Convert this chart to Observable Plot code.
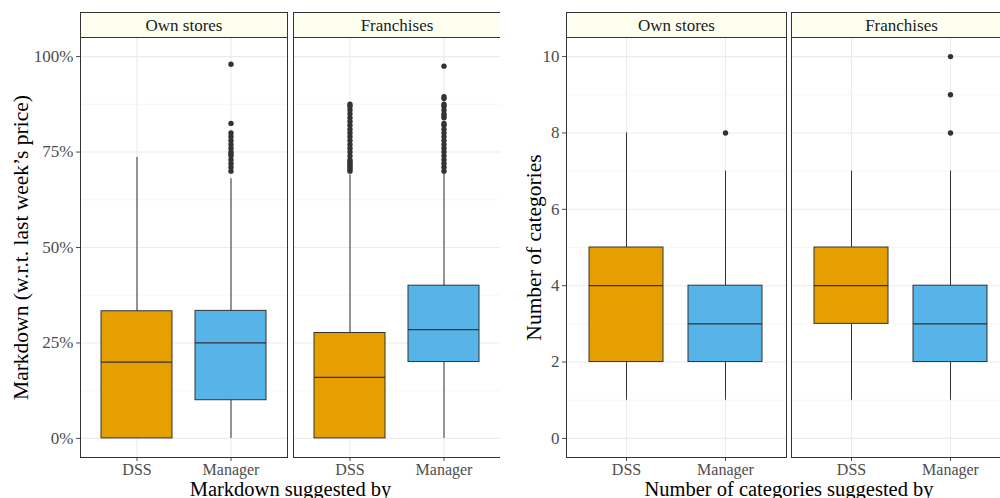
<!DOCTYPE html>
<html><head><meta charset="utf-8">
<script src="https://cdn.jsdelivr.net/npm/d3@7"></script>
<script src="https://cdn.jsdelivr.net/npm/@observablehq/plot@0.6"></script>
<style>
body{margin:0;background:#fff;}
#wrap{display:flex;width:1000px;height:498px;overflow:hidden;background:#fff;}
#wrap svg{flex:none;display:block;}
</style></head><body><div id="wrap"></div>
<script>
const FONT = "'Liberation Serif', 'DejaVu Serif', serif";
const stores = ["Own stores", "Franchises"];
const sources = ["DSS", "Manager"];
const colors = ["#E69F00", "#56B4E9"];

// Order of the four boxes: Own/DSS, Own/Manager, Franchises/DSS, Franchises/Manager
const mdLow    = [0, 0, 0, 0];
const mdQ1     = [0, 0.10, 0, 0.20];
const mdMedian = [0.20, 0.25, 0.16, 0.285];
const mdQ3     = [0.333, 0.334, 0.276, 0.40];
const mdHigh   = [0.736, 0.68, 0.69, 0.70];
const mdOutOwnMgr = [0.98, 0.825, 0.80, 0.79, 0.78, 0.77, 0.76, 0.75, 0.745, 0.74, 0.73, 0.72, 0.71, 0.70];
const mdOutFrDss  = [0.875, 0.87, 0.86, 0.85, 0.84, 0.83, 0.82, 0.81, 0.80, 0.79, 0.78, 0.77, 0.76, 0.75, 0.74, 0.73, 0.725, 0.72, 0.715, 0.71, 0.705, 0.70];
const mdOutFrMgr  = [0.975, 0.895, 0.89, 0.875, 0.87, 0.86, 0.85, 0.845, 0.84, 0.825, 0.82, 0.81, 0.80, 0.79, 0.78, 0.77, 0.76, 0.75, 0.74, 0.73, 0.72, 0.71, 0.70];
const mdTicks = [0, 0.25, 0.5, 0.75, 1];
const mdMinor = [0.125, 0.375, 0.625, 0.875];

const ncLow    = [1, 1, 1, 1];
const ncQ1     = [2, 2, 3, 2];
const ncMedian = [4, 3, 4, 3];
const ncQ3     = [5, 4, 5, 4];
const ncHigh   = [8, 7, 7, 7];
const ncOutOwnMgr = [8];
const ncOutFrMgr  = [8, 9, 10];
const ncTicks = [0, 2, 4, 6, 8, 10];
const ncMinor = [1, 3, 5, 7, 9];

function buildStats(low, q1, med, q3, high) {
  const out = [];
  stores.forEach((s, i) => sources.forEach((w, j) => {
    const k = i * 2 + j;
    out.push({store: s, who: w, lo: low[k], q1: q1[k], med: med[k], q3: q3[k], hi: high[k]});
  }));
  return out;
}
function buildOutliers(groups) {
  return groups.flatMap(([store, who, vals]) => vals.map(v => ({store, who, value: v})));
}

function panel(opt) {
  const stats = buildStats(...opt.stats);
  const plot = Plot.plot({
    width: opt.width, height: 498,
    marginLeft: opt.marginLeft, marginRight: 0, marginTop: 37, marginBottom: 41,
    style: {fontFamily: FONT, fontSize: "17px", color: "#4D4D4D", background: "white", overflow: "visible"},
    fx: {domain: stores, paddingInner: opt.fxPad, paddingOuter: 0, axis: "top", label: null, tickSize: 0, tickPadding: 7},
    x: {domain: sources, paddingInner: 0.25, paddingOuter: 0.225, tickSize: 4, tickPadding: 2, label: null},
    y: {domain: opt.yDomain, ticks: opt.yTicks, tickFormat: opt.yFormat, tickSize: 4, tickPadding: 3, label: null},
    color: {domain: sources, range: colors},
    marks: [
      Plot.ruleY(opt.yMinor, {stroke: "#F3F3F3", strokeWidth: 0.7}),
      Plot.ruleY(opt.yTicks, {stroke: "#EBEBEB", strokeWidth: 1.1}),
      Plot.ruleX(sources, {x: d => d, stroke: "#EBEBEB", strokeWidth: 1.1}),
      Plot.ruleX(stats, {fx: "store", x: "who", y1: "lo", y2: "hi", stroke: "#333", strokeWidth: 1}),
      Plot.barY(stats, {fx: "store", x: "who", y1: "q1", y2: "q3", fill: "who", stroke: "#333", strokeWidth: 1}),
      Plot.tickY(stats, {fx: "store", x: "who", y: "med", stroke: "#333", strokeWidth: 1.2}),
      Plot.dot(opt.outliers, {fx: "store", x: "who", y: "value", r: 2.7, fill: "#333", stroke: "none"}),
      Plot.frame({stroke: "#333", strokeWidth: 1})
    ]
  });
  document.getElementById("wrap").appendChild(plot);
  decorate(plot, opt);
  return plot;
}

function decorate(svg, opt) {
  const ns = "http://www.w3.org/2000/svg";
  const sb = svg.getBoundingClientRect();
  const rects = [];
  svg.querySelectorAll('[aria-label="frame"]').forEach(el => {
    if (el.tagName.toLowerCase() === "rect") rects.push(el);
    else el.querySelectorAll("rect").forEach(r => rects.push(r));
  });
  const boxes = rects.map(r => {
    const b = r.getBoundingClientRect();
    return {x: b.left - sb.left, y: b.top - sb.top, w: b.width, h: b.height};
  });
  const g = document.createElementNS(ns, "g");
  boxes.forEach(b => {
    const s = document.createElementNS(ns, "rect");
    s.setAttribute("x", b.x); s.setAttribute("y", b.y - 25);
    s.setAttribute("width", b.w); s.setAttribute("height", 25);
    s.setAttribute("fill", "#FFFFF0"); s.setAttribute("stroke", "#333"); s.setAttribute("stroke-width", 1);
    g.appendChild(s);
  });
  svg.insertBefore(g, svg.firstChild ? svg.firstChild.nextSibling : null);
  svg.querySelectorAll('g[aria-label^="fx-axis"] text').forEach(t => t.setAttribute("fill", "#1A1A1A"));
  svg.querySelectorAll('g[aria-label="x-axis tick label"]').forEach(t => t.setAttribute("font-size", "16px"));
  svg.querySelectorAll('g[aria-label="x-axis tick label"] text').forEach(t => t.style.fontSize = "16px");
  const left = Math.min(...boxes.map(b => b.x));
  const right = Math.max(...boxes.map(b => b.x + b.w));
  const top = Math.min(...boxes.map(b => b.y));
  const bottom = Math.max(...boxes.map(b => b.y + b.h));
  const xt = document.createElementNS(ns, "text");
  xt.setAttribute("x", (left + right) / 2); xt.setAttribute("y", 495.5);
  xt.setAttribute("text-anchor", "middle"); xt.setAttribute("fill", "#000");
  xt.setAttribute("font-size", "20.5px");
  xt.textContent = opt.xTitle;
  svg.appendChild(xt);
  const yt = document.createElementNS(ns, "text");
  const cy = (top + bottom) / 2;
  yt.setAttribute("transform", `translate(${opt.titleX},${cy}) rotate(-90)`);
  yt.setAttribute("text-anchor", "middle"); yt.setAttribute("dy", "0.35em");
  yt.setAttribute("fill", "#000"); yt.setAttribute("font-size", "21.5px");
  yt.textContent = opt.yTitle;
  svg.appendChild(yt);
}

panel({
  width: 500, marginLeft: 80, fxPad: 6 / 213,
  stats: [mdLow, mdQ1, mdMedian, mdQ3, mdHigh],
  outliers: buildOutliers([["Own stores", "Manager", mdOutOwnMgr], ["Franchises", "DSS", mdOutFrDss], ["Franchises", "Manager", mdOutFrMgr]]),
  yDomain: [-0.05, 1.05], yTicks: mdTicks, yMinor: mdMinor, yFormat: d3.format(".0%"),
  yTitle: "Markdown (w.r.t. last week\u2019s price)", xTitle: "Markdown suggested by", titleX: 20
});
panel({
  width: 511, marginLeft: 66, fxPad: 5 / 225,
  stats: [ncLow, ncQ1, ncMedian, ncQ3, ncHigh],
  outliers: buildOutliers([["Own stores", "Manager", ncOutOwnMgr], ["Franchises", "Manager", ncOutFrMgr]]),
  yDomain: [-0.5, 10.5], yTicks: ncTicks, yMinor: ncMinor, yFormat: d3.format("d"),
  yTitle: "Number of categories", xTitle: "Number of categories suggested by", titleX: 33
});
</script></body></html>
